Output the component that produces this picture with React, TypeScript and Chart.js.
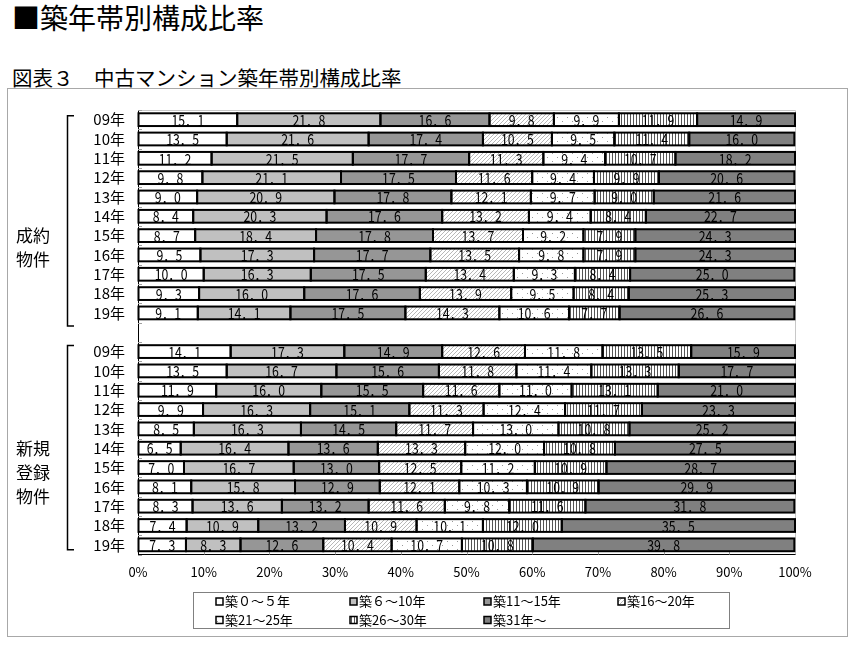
import React, { useEffect, useRef } from "react";
import { Chart, registerables } from "chart.js";
Chart.register(...registerables);

const categories = [
  "09年", "10年", "11年", "12年", "13年", "14年", "15年", "16年", "17年", "18年", "19年",
  "",
  "09年", "10年", "11年", "12年", "13年", "14年", "15年", "16年", "17年", "18年", "19年",
];
const seriesLabels = ["築０～５年", "築６～10年", "築11～15年", "築16～20年", "築21～25年", "築26～30年", "築31年～"];

const age0to5 = [15.1, 13.5, 11.2, 9.8, 9.0, 8.4, 8.7, 9.5, 10.0, 9.3, 9.1, null, 14.1, 13.5, 11.9, 9.9, 8.5, 6.5, 7.0, 8.1, 8.3, 7.4, 7.3];
const age6to10 = [21.8, 21.6, 21.5, 21.1, 20.9, 20.3, 18.4, 17.3, 16.3, 16.0, 14.1, null, 17.3, 16.7, 16.0, 16.3, 16.3, 16.4, 16.7, 15.8, 13.6, 10.9, 8.3];
const age11to15 = [16.6, 17.4, 17.7, 17.5, 17.8, 17.6, 17.8, 17.7, 17.5, 17.6, 17.5, null, 14.9, 15.6, 15.5, 15.1, 14.5, 13.6, 13.0, 12.9, 13.2, 13.2, 12.6];
const age16to20 = [9.8, 10.5, 11.3, 11.6, 12.1, 13.2, 13.7, 13.5, 13.4, 13.9, 14.3, null, 12.6, 11.8, 11.6, 11.3, 11.7, 13.3, 12.5, 12.1, 11.6, 10.9, 10.4];
const age21to25 = [9.9, 9.5, 9.4, 9.4, 9.7, 9.4, 9.2, 9.8, 9.3, 9.5, 10.6, null, 11.8, 11.4, 11.0, 12.4, 13.0, 12.0, 11.2, 10.3, 9.8, 10.1, 10.7];
const age26to30 = [11.9, 11.4, 10.7, 9.9, 9.0, 8.4, 7.9, 7.9, 8.4, 8.4, 7.7, null, 13.5, 13.3, 13.1, 11.7, 10.8, 10.8, 10.9, 10.9, 11.6, 12.0, 10.8];
const age31plus = [14.9, 16.0, 18.2, 20.6, 21.6, 22.7, 24.3, 24.3, 25.0, 25.3, 26.6, null, 15.9, 17.7, 21.0, 23.3, 25.2, 27.5, 28.7, 29.9, 31.8, 35.5, 39.8];

const groupContract = ["成約", "物件"];
const groupNew = ["新規", "登録", "物件"];

const JP = '"Noto Sans CJK JP", "Noto Sans", sans-serif';

function makePattern(kind: string): CanvasPattern | string {
  const c = document.createElement("canvas");
  const g = c.getContext("2d")!;
  if (kind === "hatch") {
    c.width = 4; c.height = 4;
    g.fillStyle = "#ffffff"; g.fillRect(0, 0, 4, 4);
    g.fillStyle = "#b8b8b8";
    g.fillRect(3, 0, 1, 1); g.fillRect(2, 1, 1, 1); g.fillRect(1, 2, 1, 1); g.fillRect(0, 3, 1, 1);
  } else if (kind === "dots") {
    c.width = 10; c.height = 8;
    g.fillStyle = "#ffffff"; g.fillRect(0, 0, 10, 8);
    g.fillStyle = "#999999";
    g.fillRect(2, 1, 1, 1); g.fillRect(7, 5, 1, 1);
  } else {
    c.width = 3; c.height = 2;
    g.fillStyle = "#ffffff"; g.fillRect(0, 0, 3, 2);
    g.fillStyle = "#555555";
    g.fillRect(0, 0, 1, 2);
  }
  return g.createPattern(c, "repeat")!;
}

export default function App() {
  const ref = useRef<HTMLCanvasElement | null>(null);

  useEffect(() => {
    if (!ref.current) return;
    const fills: any[] = [
      "#ffffff",
      "#c0c0c0",
      "#969696",
      makePattern("hatch"),
      makePattern("dots"),
      makePattern("stripes"),
      "#808080",
    ];
    const seriesData = [age0to5, age6to10, age11to15, age16to20, age21to25, age26to30, age31plus];

    const overlay = {
      id: "overlay",
      beforeDatasetsDraw(chart: any) {
        const { ctx, chartArea: a, scales } = chart;
        const y = scales.y;
        const x = scales.x;
        ctx.save();
        ctx.strokeStyle = "#c8c8c8";
        ctx.lineWidth = 1;
        ctx.beginPath();
        ctx.moveTo(a.left, a.top + 0.5);
        ctx.lineTo(a.right + 0.5, a.top + 0.5);
        ctx.lineTo(a.right + 0.5, a.bottom);
        ctx.stroke();
        ctx.strokeStyle = "#a0a0a0";
        ctx.beginPath();
        for (let i = 0; i <= categories.length; i++) {
          const yy = Math.round(y.getPixelForValue(i - 0.5)) + 0.5;
          ctx.moveTo(a.left, yy);
          ctx.lineTo(a.left + 4, yy);
        }
        for (let v = 10; v < 100; v += 10) {
          const xx = Math.round(x.getPixelForValue(v)) + 0.5;
          ctx.moveTo(xx, a.bottom);
          ctx.lineTo(xx, a.bottom - 4);
        }
        ctx.stroke();
        ctx.restore();
      },
      afterDatasetsDraw(chart: any) {
        const { ctx, chartArea: a, scales } = chart;
        const y = scales.y;
        ctx.save();
        // bar outlines
        ctx.strokeStyle = "#000000";
        ctx.lineWidth = 2;
        chart.data.datasets.forEach((ds: any, di: number) => {
          const meta = chart.getDatasetMeta(di);
          meta.data.forEach((el: any, i: number) => {
            if (ds.data[i] == null) return;
            const p = el.getProps(["x", "y", "base", "height"], true);
            const l = Math.min(p.x, p.base);
            const r = Math.min(Math.max(p.x, p.base), a.right);
            ctx.strokeRect(l, p.y - p.height / 2, r - l, p.height);
          });
        });
        // value labels
        ctx.fillStyle = "#000000";
        ctx.font = `15px ${JP}`;
        ctx.textAlign = "center";
        ctx.textBaseline = "middle";
        chart.data.datasets.forEach((ds: any, di: number) => {
          const meta = chart.getDatasetMeta(di);
          meta.data.forEach((el: any, i: number) => {
            const v = ds.data[i];
            if (v == null) return;
            const p = el.getProps(["x", "y", "base"], true);
            const cx = (p.x + p.base) / 2;
            const txt = v.toFixed(1).replace(".", "．");
            ctx.save();
            ctx.translate(cx, p.y + 0.5);
            ctx.scale(0.82, 1);
            ctx.fillText(txt, 0, 0);
            ctx.restore();
          });
        });
        // brackets
        ctx.strokeStyle = "#000000";
        ctx.lineWidth = 1.5;
        const bx = 67.5;
        const bracket = (top: number, bottom: number) => {
          ctx.beginPath();
          ctx.moveTo(bx + 6.5, top);
          ctx.lineTo(bx, top);
          ctx.lineTo(bx, bottom);
          ctx.lineTo(bx + 6.5, bottom);
          ctx.stroke();
        };
        bracket(y.getPixelForValue(0) - 4, y.getPixelForValue(10) + 13);
        bracket(y.getPixelForValue(12) - 6, y.getPixelForValue(22) + 5);
        // group labels
        ctx.font = `17px ${JP}`;
        ctx.textAlign = "center";
        ctx.textBaseline = "middle";
        groupContract.forEach((t, k) => ctx.fillText(t, 33, y.getPixelForValue(6) + 24 * k));
        groupNew.forEach((t, k) => ctx.fillText(t, 33, y.getPixelForValue(17) + 24 * k));
        // legend
        const boxTop = 504, boxBottom = 540;
        ctx.strokeStyle = "#808080";
        ctx.lineWidth = 1;
        ctx.strokeRect(193.5, boxTop + 0.5, 536, boxBottom - boxTop);
        ctx.font = `13px ${JP}`;
        ctx.textAlign = "left";
        ctx.textBaseline = "middle";
        seriesLabels.forEach((lab, k) => {
          const col = k % 4;
          const row = Math.floor(k / 4);
          const ix = 216 + col * 134;
          const iy = row === 0 ? 513.5 : 532;
          ctx.fillStyle = fills[k];
          ctx.fillRect(ix, iy - 3.5, 7, 7);
          ctx.strokeStyle = "#000000";
          ctx.lineWidth = 1.5;
          ctx.strokeRect(ix, iy - 3.5, 7, 7);
          ctx.fillStyle = "#000000";
          ctx.fillText(lab, ix + 9, iy);
        });
        ctx.restore();
      },
    };

    const chart = new Chart(ref.current, {
      type: "bar",
      data: {
        labels: categories,
        datasets: seriesData.map((d, k) => ({
          label: seriesLabels[k],
          data: d as any,
          backgroundColor: fills[k],
          borderWidth: 0,
          categoryPercentage: 1,
          barPercentage: 0.66,
        })),
      },
      options: {
        indexAxis: "y",
        responsive: false,
        animation: false,
        layout: { padding: { left: 0, right: 62, top: 13, bottom: 0 } },
        plugins: { legend: { display: false }, tooltip: { enabled: false } },
        scales: {
          x: {
            type: "linear",
            stacked: true,
            min: 0,
            max: 100,
            grid: { display: true, drawOnChartArea: false, drawTicks: false },
            border: { display: true, color: "#000000", width: 1 },
            ticks: {
              stepSize: 10,
              padding: 10,
              color: "#000000",
              font: { size: 13, family: JP },
              callback: (v: any) => `${v}%`,
            },
            afterFit: (s: any) => { s.height = 85.5; },
          },
          y: {
            type: "category",
            stacked: true,
            grid: { display: true, drawOnChartArea: false, drawTicks: false },
            border: { display: true, color: "#000000", width: 1 },
            ticks: {
              autoSkip: false,
              padding: 13,
              color: "#000000",
              font: { size: 15, family: JP },
            },
            afterFit: (s: any) => { s.width = 138; },
          },
        },
      },
      plugins: [overlay],
    });
    return () => chart.destroy();
  }, []);

  return (
    <div style={{ position: "absolute", left: 0, top: 0, width: 857, height: 645, background: "#ffffff", overflow: "hidden", fontFamily: JP, color: "#000" }}>
      <div style={{ position: "absolute", left: 12, top: 0, fontSize: 28, lineHeight: "34px", whiteSpace: "nowrap" }}>■築年帯別構成比率</div>
      <div style={{ position: "absolute", left: 12, top: 64, fontSize: 20.5, lineHeight: "26px", whiteSpace: "nowrap" }}>図表３　中古マンション築年帯別構成比率</div>
      <div style={{ position: "absolute", left: 7, top: 88, width: 839, height: 547, border: "1.5px solid #a8a8a8" }} />
      <canvas ref={ref} width={857} height={552} style={{ position: "absolute", left: 0, top: 88, width: 857, height: 552 }} />
    </div>
  );
}
